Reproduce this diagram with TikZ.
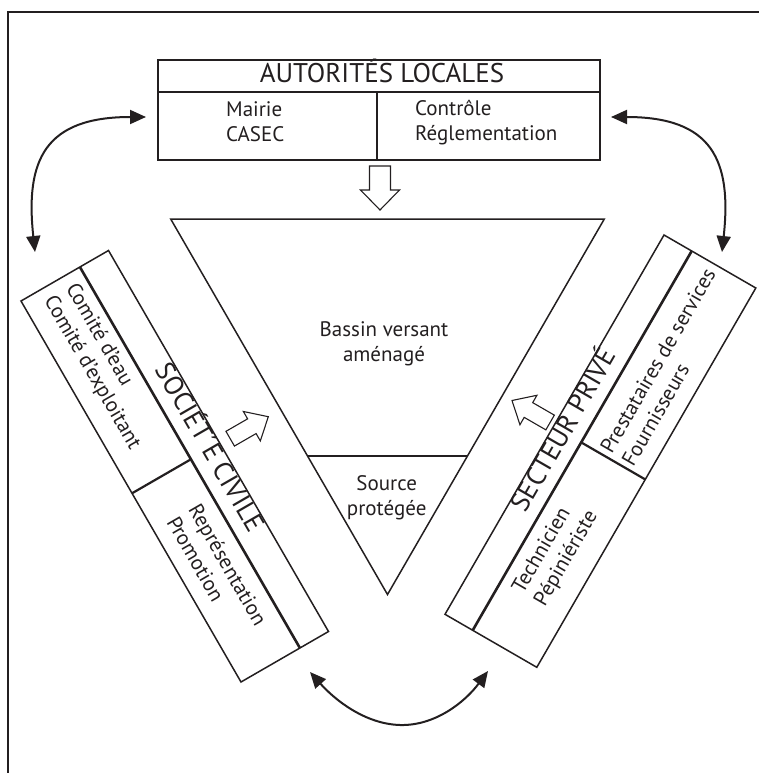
\documentclass[tikz,border=0pt]{standalone}
\usepackage{fontspec}
\setmainfont{PT Sans}
\usetikzlibrary{arrows.meta,calc}
\definecolor{ink}{HTML}{231F20}
\begin{document}
\begin{tikzpicture}[x=1pt,y=-1pt,
  box/.style={draw=ink, line width=1.5pt, line join=miter},
  divider/.style={draw=ink, line width=2.6pt},
  txt/.style={font=\fontsize{21}{25}\selectfont, text=ink, inner sep=0pt, align=left},
  ctxt/.style={font=\fontsize{21}{25}\selectfont, text=ink, inner sep=0pt, align=center},
  ttl/.style={font=\fontsize{27}{30}\selectfont, text=ink, inner sep=0pt},
  dbl/.style={draw=ink, line width=2pt, {Triangle[length=16pt,width=14pt]}-{Triangle[length=16pt,width=14pt]}},
  hollow/.style={draw=ink, line width=1.1pt, fill=white, line join=miter},
  bigarrow/.pic={\draw[hollow] (0,-10.5) -- (24,-10.5) -- (24,-19.5) -- (44,0) -- (24,19.5) -- (24,10.5) -- (0,10.5) -- cycle;},
  smallarrow/.pic={\draw[hollow] (0,-8.5) -- (25,-8.5) -- (25,-17) -- (44,0) -- (25,17) -- (25,8.5) -- (0,8.5) -- cycle;}]
\useasboundingbox (0,0) rectangle (759,773);

% frame
\coordinate (f1) at (759,12.5);
\coordinate (f2) at (7.5,12.5);
\coordinate (f3) at (7.5,773);
\draw[ink, line width=2pt, line join=miter] (f1) -- (f2) -- (f3);

% top box
\coordinate (a1) at (158,60);
\coordinate (a2) at (600,60);
\coordinate (a3) at (600,160);
\coordinate (a4) at (158,160);
\coordinate (a5) at (158,92);
\coordinate (a6) at (600,92);
\coordinate (a7) at (377,92);
\coordinate (a8) at (377,160);
\draw[box] (a1) -- (a2) -- (a3) -- (a4) -- cycle;
\draw[box] (a5) -- (a6);
\draw[box, line width=2pt] (a7) -- (a8);
\node[ttl, anchor=base] (aut) at (382,83) {AUTORITÉS LOCALES};
\node[txt, anchor=west] (mairie) at (226,122) {Mairie\\CASEC};
\node[txt, anchor=west] (ctrl) at (415,123) {Contrôle\\Réglementation};

% down hollow arrow
\pic[rotate=-90] at (380,166) {bigarrow};

% triangle
\coordinate (t1) at (170.7,219);
\coordinate (t2) at (604.3,219);
\coordinate (t3) at (387.5,594.5);
\coordinate (t4) at (307.5,456);
\coordinate (t5) at (467.5,456);
\draw[box] (t1) -- (t2) -- (t3) -- cycle;
\draw[box] (t4) -- (t5);
\node[ctxt] (bassin) at (384,344) {Bassin versant\\aménagé};
\node[ctxt] (source) at (386.7,498) {Source\\protégée};

% left box: Societe civile
\coordinate (sA) at (21,301);
\coordinate (sB) at (108.5,250.5);
\coordinate (sC) at (328.5,631.5);
\coordinate (sD) at (241,682);
\coordinate (sE) at (79.9,267);
\coordinate (sF) at (299.9,648);
\coordinate (sG) at (132,493.3);
\coordinate (sH) at (190.9,459.3);
\draw[box] (sA) -- (sB) -- (sC) -- (sD) -- cycle;
\draw[divider] (sE) -- (sF);
\draw[divider, line width=2.2pt] (sG) -- (sH);
\node[txt, rotate=-60, anchor=west] (comite) at (59.4,291.5) {Comité d'eau\\Comité d'exploitant};
\node[txt, rotate=-60, anchor=west] (repr) at (183.3,512.1) {Représentation\\Promotion};
\node[ttl, rotate=-60, text height=0.7em, text depth=0pt] (soc) at (205.1,449.9) {SOCIÉT´E CIVILE};
\pic[rotate=30] at (230.2,438.7) {smallarrow};

% right box: Secteur prive
\coordinate (pA) at (664,235);
\coordinate (pB) at (755.8,288);
\coordinate (pC) at (536.8,667.3);
\coordinate (pD) at (445,614.3);
\coordinate (pE) at (691.7,251);
\coordinate (pF) at (472.7,630.3);
\coordinate (pG) at (581.2,442.4);
\coordinate (pH) at (645.2,479.4);
\draw[box] (pA) -- (pB) -- (pC) -- (pD) -- cycle;
\draw[divider] (pE) -- (pF);
\draw[divider, line width=2.2pt] (pG) -- (pH);
\node[txt, rotate=60] (prest) at (668.6,367) {Prestataires de services\\Fournisseurs};
\node[txt, rotate=60] (tech) at (555.8,552.4) {Technicien\\Pépiniériste};
\node[ttl, rotate=60, text height=0.7em, text depth=0pt] (sect) at (568.4,432.7) {SECTEUR PRIVÉ};
\pic[rotate=150] at (550.1,422.5) {smallarrow};

% curved double arrows
\coordinate (c1) at (35,252);
\coordinate (c2) at (146,117);
\coordinate (c3) at (611,117);
\coordinate (c4) at (722,252);
\coordinate (c5) at (310,672);
\coordinate (c6) at (400,725);
\coordinate (c7) at (488,671);
\draw[dbl] (c1) .. controls (25,160) and (45,117) .. (c2);
\draw[dbl] (c3) .. controls (712,117) and (732,160) .. (c4);
\draw[dbl] (c5) .. controls (335,700) and (365,724) .. (c6) .. controls (435,726) and (465,702) .. (c7);
\end{tikzpicture}
\end{document}
